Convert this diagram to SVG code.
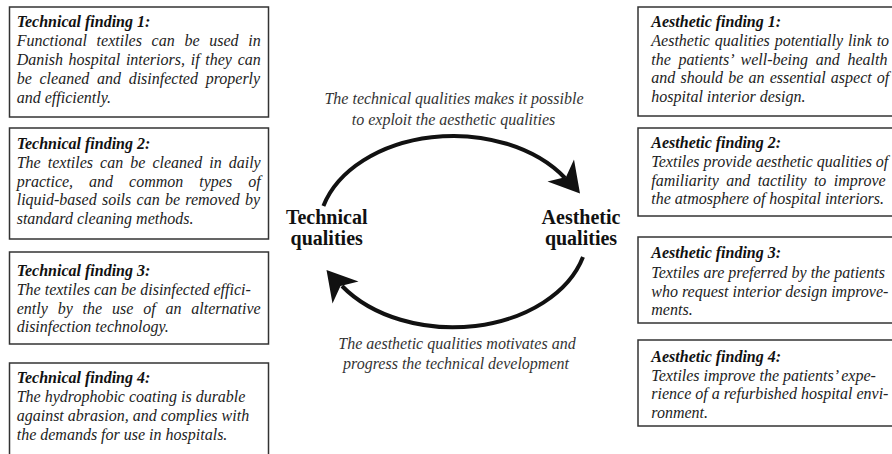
<svg xmlns="http://www.w3.org/2000/svg" width="892" height="454" viewBox="0 0 892 454">
<style>
.box{fill:#fff;stroke:#333;stroke-width:1.5}
.t{font-family:"Liberation Serif","Times New Roman",serif;font-size:16px;font-style:italic;fill:#222}
.h{font-weight:bold;fill:#111}
.lbl{font-family:"Liberation Serif","Times New Roman",serif;font-size:20px;font-weight:bold;text-anchor:middle;fill:#111}
.cap{font-family:"Liberation Serif","Times New Roman",serif;font-size:16px;font-style:italic;text-anchor:middle;fill:#333}
.arc{fill:none;stroke:#111;stroke-width:4}
.head{fill:#111}
</style>
<rect width="892" height="454" fill="#fff"/>

<g id="tech-finding-1">
<rect class="box" x="9.5" y="7" width="259" height="110"/>
<text class="t h" x="16.7" y="27.3">Technical finding 1:</text>
<text class="t" x="16.7" y="46.3" word-spacing="5.7">Functional textiles can be used in</text>
<text class="t" x="16.7" y="65.1" word-spacing="1.7">Danish hospital interiors, if they can</text>
<text class="t" x="16.7" y="83.9" word-spacing="3.7">be cleaned and disinfected properly</text>
<text class="t" x="16.7" y="102.7">and efficiently.</text>
</g>

<g id="tech-finding-2">
<rect class="box" x="9.5" y="128" width="259" height="111"/>
<text class="t h" x="16.7" y="149">Technical finding 2:</text>
<text class="t" x="16.7" y="168" word-spacing="3.05">The textiles can be cleaned in daily</text>
<text class="t" x="16.7" y="186.7" word-spacing="12">practice, and common types of</text>
<text class="t" x="16.7" y="205.4" word-spacing="1.26">liquid-based soils can be removed by</text>
<text class="t" x="16.7" y="224">standard cleaning methods.</text>
</g>

<g id="tech-finding-3">
<rect class="box" x="9.5" y="252" width="259" height="92"/>
<text class="t h" x="16.7" y="275.5">Technical finding 3:</text>
<text class="t" x="16.7" y="294.8">The textiles can be disinfected effici-</text>
<text class="t" x="16.7" y="313.5" word-spacing="5.85">ently by the use of an alternative</text>
<text class="t" x="16.7" y="332.2">disinfection technology.</text>
</g>

<g id="tech-finding-4">
<rect class="box" x="9.5" y="363" width="259" height="110"/>
<text class="t h" x="16.7" y="382.5">Technical finding 4:</text>
<text class="t" x="16.7" y="401.8">The hydrophobic coating is durable</text>
<text class="t" x="16.7" y="420.8">against abrasion, and complies with</text>
<text class="t" x="16.7" y="439.8">the demands for use in hospitals.</text>
</g>

<g id="aes-finding-1">
<rect class="box" x="638" y="7" width="270" height="109"/>
<text class="t h" x="651.3" y="26.5">Aesthetic finding 1:</text>
<text class="t" x="651.3" y="46" word-spacing="0.8">Aesthetic qualities potentially link to</text>
<text class="t" x="651.3" y="64.7" word-spacing="3.7">the patients’ well-being and health</text>
<text class="t" x="651.3" y="83.4" word-spacing="1.15">and should be an essential aspect of</text>
<text class="t" x="651.3" y="102.1">hospital interior design.</text>
</g>

<g id="aes-finding-2">
<rect class="box" x="638" y="128" width="270" height="88"/>
<text class="t h" x="651.3" y="148">Aesthetic finding 2:</text>
<text class="t" x="651.3" y="167">Textiles provide aesthetic qualities of</text>
<text class="t" x="651.3" y="185.7" word-spacing="3.4">familiarity and tactility to improve</text>
<text class="t" x="651.3" y="204.4">the atmosphere of hospital interiors.</text>
</g>

<g id="aes-finding-3">
<rect class="box" x="638" y="237" width="270" height="86"/>
<text class="t h" x="651.3" y="258">Aesthetic finding 3:</text>
<text class="t" x="651.3" y="277.8">Textiles are preferred by the patients</text>
<text class="t" x="651.3" y="296.5">who request interior design improve-</text>
<text class="t" x="651.3" y="315.2">ments.</text>
</g>

<g id="aes-finding-4">
<rect class="box" x="638" y="340" width="270" height="86"/>
<text class="t h" x="651.3" y="361.5">Aesthetic finding 4:</text>
<text class="t" x="651.3" y="380.5">Textiles improve the patients’ expe-</text>
<text class="t" x="651.3" y="399.2">rience of a refurbished hospital envi-</text>
<text class="t" x="651.3" y="417.9">ronment.</text>
</g>

<g id="technical-qualities">
<text class="lbl" x="326.7" y="224">Technical</text>
<text class="lbl" x="326.7" y="245">qualities</text>
</g>

<g id="aesthetic-qualities">
<text class="lbl" x="581" y="224">Aesthetic</text>
<text class="lbl" x="581" y="245">qualities</text>
</g>

<g id="connectors">
<path class="arc" d="M 323.4 206 A 135 96 0 0 1 565 178"/>
<path class="head" d="M 580 193.5 L 547.5 181.5 L 566 177 L 574 159.5 Z"/>
<path class="arc" d="M 583 257 A 135 96 0 0 1 342 286"/>
<path class="head" d="M 326.5 270 L 358.5 281.5 L 340.5 286 L 332.5 303.5 Z"/>
<text class="cap" x="454" y="104">The technical qualities makes it possible</text>
<text class="cap" x="453.5" y="125">to exploit the aesthetic qualities</text>
<text class="cap" x="457" y="348.5">The aesthetic qualities motivates and</text>
<text class="cap" x="456" y="369">progress the technical development</text>
</g>
</svg>
